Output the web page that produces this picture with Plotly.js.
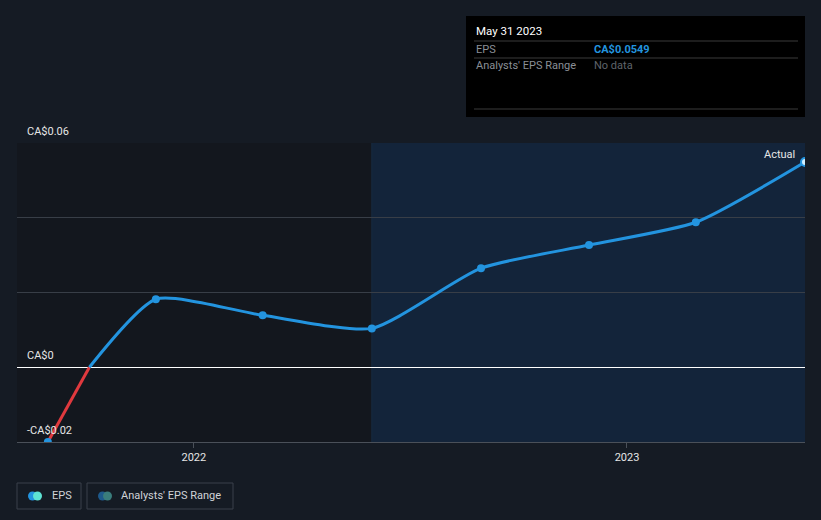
<!DOCTYPE html>
<html>
<head>
<meta charset="utf-8">
<script src="https://cdn.plot.ly/plotly-3.0.1.min.js"></script>
<style>
html,body{margin:0;padding:0;background:#151b24;}
#chart{width:821px;height:520px;}
</style>
</head>
<body>
<div id="chart"></div>
<script>
// ---- data ----
const dates = ['2021-08-31','2021-11-30','2022-02-28','2022-05-31','2022-08-31','2022-11-30','2023-02-28','2023-05-31'];
const eps = [-0.02, 0.0182, 0.0139, 0.0104, 0.0265, 0.0327, 0.0388, 0.0549];
const zeroCrossDate = '2021-10-05';
const forecastStart = '2022-05-31';
const xStart = '2021-08-05';
const xEnd = '2023-05-31';
const yTicks = [-0.02, 0, 0.02, 0.04, 0.06];
const yTickLabels = ['-CA$0.02', 'CA$0', '', '', 'CA$0.06'];
const xTicks = ['2022-01-01', '2023-01-01'];
const xTickLabels = ['2022', '2023'];
const tooltipDate = 'May 31 2023';
const tooltipEps = 'CA$0.0549';

// ---- geometry helpers (plot area: x 17..805, y 143..442) ----
const L = 17, R = 805, T = 143, B = 442;
const px = x => (x - L) / (R - L);
const py = y => (B - y) / (B - T);

const blue = '#2394df';
const red = '#e0393e';

const traces = [
  { // negative part
    x: [dates[0], zeroCrossDate], y: [eps[0], 0],
    mode: 'lines', line: {color: red, width: 3}, hoverinfo: 'skip', showlegend: false
  },
  { // positive part
    x: [zeroCrossDate].concat(dates.slice(1)), y: [0].concat(eps.slice(1)),
    mode: 'lines', line: {color: blue, width: 3, shape: 'spline', smoothing: 0.6}, hoverinfo: 'skip', showlegend: false
  },
  {
    x: dates, y: eps, mode: 'markers',
    marker: {size: 8, color: dates.map((d,i)=> i === dates.length-1 ? '#cfeeff' : blue),
             line: {color: blue, width: dates.map((d,i)=> i === dates.length-1 ? 2 : 0)}},
    hoverinfo: 'skip', showlegend: false, cliponaxis: true
  }
];

const shapes = [
  {type:'rect', xref:'x', yref:'paper', x0:xStart, x1:forecastStart, y0:0, y1:1, fillcolor:'#13171e', line:{width:0}, layer:'below'},
  {type:'rect', xref:'x', yref:'paper', x0:forecastStart, x1:xEnd, y0:0, y1:1, fillcolor:'#13243a', line:{width:0}, layer:'below'},
  {type:'line', xref:'x', yref:'paper', x0:forecastStart, x1:forecastStart, y0:0, y1:1, line:{color:'#182c42', width:1}, layer:'below'},
  // tooltip box
  {type:'rect', xref:'paper', yref:'paper', x0:px(466), x1:px(805), y0:py(117), y1:py(16), fillcolor:'#000000', line:{width:0}},
  {type:'line', xref:'paper', yref:'paper', x0:px(474), x1:px(798), y0:py(41), y1:py(41), line:{color:'#3a3a3a', width:1}},
  {type:'line', xref:'paper', yref:'paper', x0:px(474), x1:px(798), y0:py(58), y1:py(58), line:{color:'#3a3a3a', width:1}},
  {type:'line', xref:'paper', yref:'paper', x0:px(474), x1:px(798), y0:py(109), y1:py(109), line:{color:'#3a3a3a', width:1}},
  // legend boxes
  {type:'rect', xref:'paper', yref:'paper', x0:px(17), x1:px(81), y0:py(509), y1:py(483), fillcolor:'rgba(0,0,0,0)', line:{color:'#3b414b', width:1}},
  {type:'rect', xref:'paper', yref:'paper', x0:px(87), x1:px(233), y0:py(509), y1:py(483), fillcolor:'rgba(0,0,0,0)', line:{color:'#3b414b', width:1}},
  // legend icons
  {type:'circle', xref:'paper', yref:'paper', x0:px(28), x1:px(37), y0:py(500.5), y1:py(491.5), fillcolor:'#2394df', line:{width:0}},
  {type:'circle', xref:'paper', yref:'paper', x0:px(33), x1:px(42), y0:py(500.5), y1:py(491.5), fillcolor:'#5ee3d3', line:{width:0}},
  {type:'circle', xref:'paper', yref:'paper', x0:px(98), x1:px(107), y0:py(500.5), y1:py(491.5), fillcolor:'#1e5a8c', line:{width:0}},
  {type:'circle', xref:'paper', yref:'paper', x0:px(103), x1:px(112), y0:py(500.5), y1:py(491.5), fillcolor:'#3a7d7c', line:{width:0}}
];

const ann = [];
const font = 'Roboto, "Open Sans", sans-serif';
yTicks.forEach((v,i)=>{
  if (!yTickLabels[i]) return;
  ann.push({xref:'paper', yref:'y', x:px(25), y:v, text:yTickLabels[i], showarrow:false,
            xanchor:'left', yanchor:'bottom', yshift:3, font:{family:font, size:11, color:'#e6e6e6'}});
});
ann.push({xref:'paper', yref:'paper', x:px(797), y:py(154), text:'Actual', showarrow:false, xanchor:'right', yanchor:'middle', font:{family:font, size:11, color:'#e6e6e6'}});
// tooltip texts
ann.push({xref:'paper', yref:'paper', x:px(474), y:py(31), text:tooltipDate, showarrow:false, xanchor:'left', yanchor:'middle', font:{family:font, size:11.5, color:'#ffffff'}});
ann.push({xref:'paper', yref:'paper', x:px(474), y:py(49), text:'EPS', showarrow:false, xanchor:'left', yanchor:'middle', font:{family:font, size:11, color:'#8a8f96'}});
ann.push({xref:'paper', yref:'paper', x:px(592), y:py(49), text:'<b>'+tooltipEps+'</b>', showarrow:false, xanchor:'left', yanchor:'middle', font:{family:font, size:11, color:'#2394df'}});
ann.push({xref:'paper', yref:'paper', x:px(474), y:py(66), text:"Analysts' EPS Range", showarrow:false, xanchor:'left', yanchor:'middle', font:{family:font, size:11, color:'#8a8f96'}});
ann.push({xref:'paper', yref:'paper', x:px(592), y:py(66), text:'No data', showarrow:false, xanchor:'left', yanchor:'middle', font:{family:font, size:11, color:'#5f646b'}});
// legend texts
ann.push({xref:'paper', yref:'paper', x:px(50), y:py(496), text:'EPS', showarrow:false, xanchor:'left', yanchor:'middle', font:{family:font, size:11, color:'#d0d3d8'}});
ann.push({xref:'paper', yref:'paper', x:px(119), y:py(496), text:"Analysts' EPS Range", showarrow:false, xanchor:'left', yanchor:'middle', font:{family:font, size:11, color:'#d0d3d8'}});

const layout = {
  width: 821, height: 520,
  margin: {l: L, r: 821 - R, t: T, b: 520 - B, pad: 0},
  paper_bgcolor: '#151b24', plot_bgcolor: '#151b24',
  showlegend: false,
  xaxis: {
    type: 'date', range: [xStart, xEnd], tickvals: xTicks, ticktext: xTickLabels,
    showgrid: false, zeroline: false, showline: true, linecolor: '#4a5059', linewidth: 1,
    ticks: 'outside', ticklen: 5, tickcolor: '#4a5059',
    tickfont: {family: font, size: 11, color: '#e6e6e6'}, fixedrange: true
  },
  yaxis: {
    range: [-0.02, 0.06], tickvals: yTicks, showticklabels: false,
    showgrid: true, gridcolor: '#383e47', gridwidth: 1,
    zeroline: true, zerolinecolor: '#ffffff', zerolinewidth: 1, fixedrange: true
  },
  shapes: shapes,
  annotations: ann
};

Plotly.newPlot('chart', traces, layout, {displayModeBar: false, staticPlot: true});
</script>
</body>
</html>
